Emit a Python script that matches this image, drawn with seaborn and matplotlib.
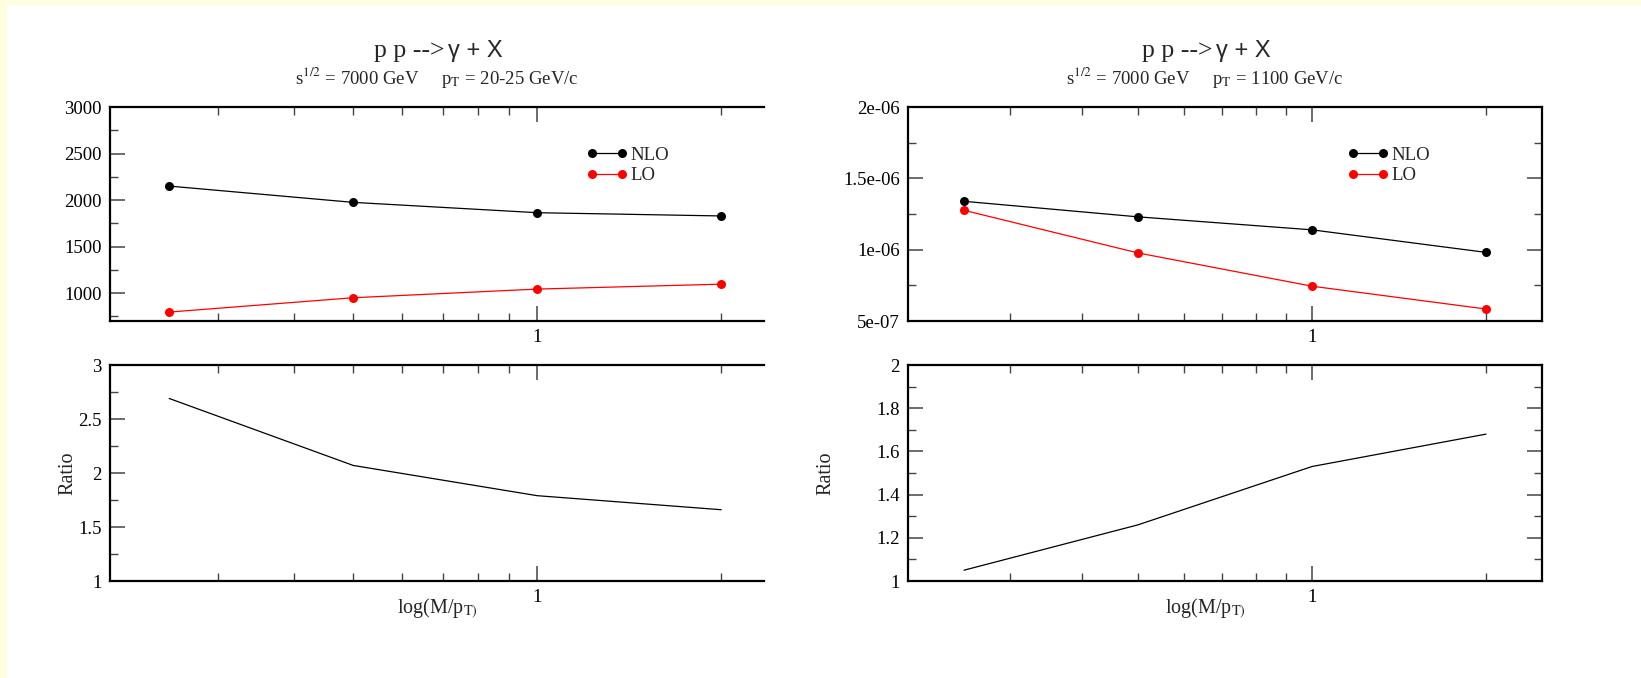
import matplotlib
matplotlib.use("Agg")
import matplotlib.pyplot as plt
from matplotlib.ticker import FixedLocator, FixedFormatter, NullFormatter
from matplotlib.patches import Rectangle
from matplotlib.lines import Line2D
from matplotlib.legend_handler import HandlerLine2D
import seaborn as sns

# Renormalisation/factorisation scale M/pT
scale = [0.25, 0.5, 1.0, 2.0]

# pT = 20-25 GeV/c
nlo_low = [2150, 1975, 1864, 1829]
lo_low = [796, 950, 1043, 1096]
ratio_low = [2.69, 2.07, 1.79, 1.66]

# pT = 1100 GeV/c
nlo_high = [1.339e-6, 1.230e-6, 1.139e-6, 0.981e-6]
lo_high = [1.276e-6, 0.977e-6, 0.744e-6, 0.584e-6]
ratio_high = [1.05, 1.26, 1.53, 1.68]

# Axis ticks and labels
x_major = [1.0]
x_major_labels = ["1"]
x_minor = [0.3, 0.4, 0.5, 0.6, 0.7, 0.8, 0.9, 2.0]

y_low = [1000, 1500, 2000, 2500, 3000]
y_low_labels = ["1000", "1500", "2000", "2500", "3000"]
y_low_minor = [750, 1250, 1750, 2250, 2750]

y_high = [5e-7, 1e-6, 1.5e-6, 2e-6]
y_high_labels = ["5e-07", "1e-06", "1.5e-06", "2e-06"]
y_high_minor = [7.5e-7, 1.25e-6, 1.75e-6]

r_low = [1, 1.5, 2, 2.5, 3]
r_low_labels = ["1", "1.5", "2", "2.5", "3"]
r_low_minor = [1.25, 1.75, 2.25, 2.75]

r_high = [1, 1.2, 1.4, 1.6, 1.8, 2]
r_high_labels = ["1", "1.2", "1.4", "1.6", "1.8", "2"]
r_high_minor = [1.1, 1.3, 1.5, 1.7, 1.9]

subtitle_low = r"s$^{1/2}$ = 7000 GeV     p$_\mathrm{T}$ = 20-25 GeV/c"
subtitle_high = r"s$^{1/2}$ = 7000 GeV     p$_\mathrm{T}$ = 1100 GeV/c"

sns.set_style("ticks")
plt.rcParams["font.family"] = ["Liberation Serif", "DejaVu Serif"]
plt.rcParams["mathtext.fontset"] = "stix"

W, H = 1641, 678
fig = plt.figure(figsize=(W / 100, H / 100), dpi=100)
fig.patch.set_facecolor("white")

# pale frame strips along the top and left edges
fig.patches.append(Rectangle((0, 1 - 5 / H), 1, 5 / H, transform=fig.transFigure,
                             facecolor="#FFFFE0", edgecolor="none", zorder=-10))
fig.patches.append(Rectangle((0, 0), 7 / W, 1, transform=fig.transFigure,
                             facecolor="#FFFFE0", edgecolor="none", zorder=-10))


def px_axes(x0, x1, y0, y1):
    return fig.add_axes([x0 / W, 1 - y1 / H, (x1 - x0) / W, (y1 - y0) / H])


def style(ax, xmax, ylim, yt, ytl, ymin, right):
    ax.set_xscale("log")
    ax.set_xlim(0.2, xmax)
    ax.set_ylim(*ylim)
    ax.xaxis.set_major_locator(FixedLocator(x_major))
    ax.xaxis.set_major_formatter(FixedFormatter(x_major_labels))
    ax.xaxis.set_minor_locator(FixedLocator(x_minor))
    ax.xaxis.set_minor_formatter(NullFormatter())
    ax.yaxis.set_major_locator(FixedLocator(yt))
    ax.yaxis.set_major_formatter(FixedFormatter(ytl))
    ax.yaxis.set_minor_locator(FixedLocator(ymin))
    ax.tick_params(which="both", direction="in", top=True, right=right,
                   labelsize=13.5, colors="black")
    ax.tick_params(which="major", length=11, width=1.1, color="#444444", pad=6)
    ax.tick_params(which="minor", length=6, width=1.0, color="#444444")
    for side in ("left", "bottom", "top", "right"):
        ax.spines[side].set_linewidth(1.6)
        ax.spines[side].set_color("black")
    ax.spines["right"].set_visible(right)
    ax.set_facecolor("white")


handler = {Line2D: HandlerLine2D(marker_pad=0)}


def top_panel(ax, nlo, lo, legend_x):
    sns.lineplot(x=scale, y=nlo, ax=ax, color="black", marker="o", markersize=6.5,
                 markeredgewidth=0, linewidth=0.9, label="NLO", legend=False)
    sns.lineplot(x=scale, y=lo, ax=ax, color="red", marker="o", markersize=6.5,
                 markeredgewidth=0, linewidth=0.9, label="LO", legend=False)
    ax.legend(loc="center left", bbox_to_anchor=(legend_x / W, 1 - 165.5 / H),
              bbox_transform=fig.transFigure, frameon=False, numpoints=2,
              handlelength=1.6, handletextpad=0.45, labelspacing=0.2,
              borderpad=0, borderaxespad=0, fontsize=13.5, handler_map=handler)


def ratio_panel(ax, ratio):
    sns.lineplot(x=scale, y=ratio, ax=ax, color="black", linewidth=0.9)
    ax.set_ylabel("Ratio", fontsize=14.5)
    ax.set_xlabel(r"log(M/p$_{\mathrm{T)}}$", fontsize=14.5)


def titles(cx, sub):
    fig.text((cx + 7) / W, 1 - 57 / H, "p p -->", ha="right", va="baseline",
             fontsize=18.5, family="Liberation Serif")
    fig.text((cx + 11) / W, 1 - 57 / H, "\u03b3 + X", ha="left", va="baseline",
             fontsize=17, family="Liberation Sans")
    fig.text(cx / W, 1 - 84 / H, sub, ha="center", va="baseline", fontsize=13.5)


# left column: low pT
ax1 = px_axes(110, 764, 107, 321)
style(ax1, 2.35, (700, 3000), y_low, y_low_labels, y_low_minor, False)
top_panel(ax1, nlo_low, lo_low, 592)

ax2 = px_axes(110, 764, 365, 581)
style(ax2, 2.35, (1, 3), r_low, r_low_labels, r_low_minor, False)
ratio_panel(ax2, ratio_low)
ax2.yaxis.set_label_coords((77 - 110) / 654, 0.5)
ax2.xaxis.set_label_coords(0.5, (581 - 597) / 216)
titles(437, subtitle_low)

# right column: high pT
ax3 = px_axes(908, 1542, 107, 321)
style(ax3, 2.5, (5e-7, 2e-6), y_high, y_high_labels, y_high_minor, True)
top_panel(ax3, nlo_high, lo_high, 1353)

ax4 = px_axes(908, 1542, 365, 581)
style(ax4, 2.5, (1, 2), r_high, r_high_labels, r_high_minor, True)
ratio_panel(ax4, ratio_high)
ax4.yaxis.set_label_coords((835 - 908) / 634, 0.5)
ax4.xaxis.set_label_coords((1205 - 908) / 634, (581 - 597) / 216)
titles(1205, subtitle_high)

fig.savefig("out.png", dpi=100, facecolor=fig.get_facecolor())
